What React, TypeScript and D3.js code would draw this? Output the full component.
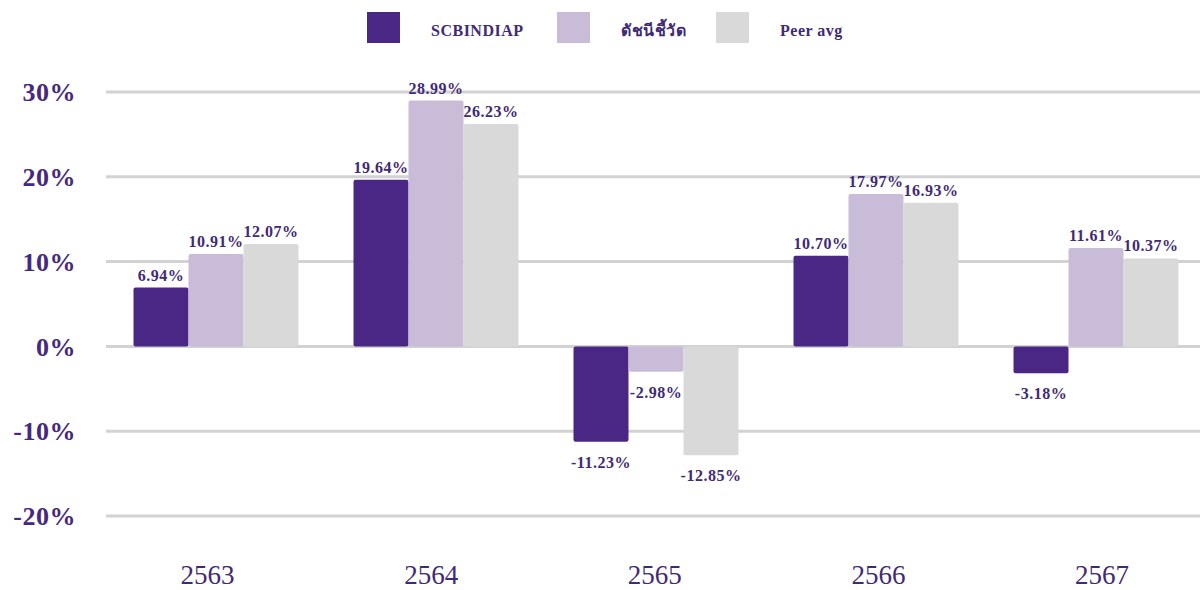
import React from "react";
import * as d3 from "d3";

const categories = ["2563", "2564", "2565", "2566", "2567"];
const seriesNames = ["SCBINDIAP", "ดัชนีชี้วัด", "Peer avg"];
const scbValues = [6.94, 19.64, -11.23, 10.7, -3.18];
const benchmarkValues = [10.91, 28.99, -2.98, 17.97, 11.61];
const peerValues = [12.07, 26.23, -12.85, 16.93, 10.37];
const yTicks = [-20, -10, 0, 10, 20, 30];

const colors = ["#4a2784", "#c9bcd9", "#d9d9d9"];
const textColor = "#3f2a76";
const serif = "'Liberation Serif', 'Times New Roman', 'DejaVu Serif', serif";

const W = 1200;
const H = 590;

export default function App() {
  const series = [scbValues, benchmarkValues, peerValues];
  const x = d3.scaleBand<string>().domain(categories).range([106, 1206]).padding(0);
  const xi = d3
    .scaleBand<number>()
    .domain([0, 1, 2])
    .range([0, x.bandwidth()])
    .paddingInner(0)
    .paddingOuter(0.5);
  const xLabel = d3.scalePoint<string>().domain(categories).range([207.5, 1102]);
  const y = d3.scaleLinear().domain([-20, 30]).range([516, 92]);
  const legendX = [367, 557, 716];

  return (
    <svg width={W} height={H} style={{ position: "absolute", left: 0, top: 0, background: "#fff" }}>
      <rect x={0} y={0} width={W} height={H} fill="#fff" />
      {/* legend */}
      {seriesNames.map((name, i) => (
        <g key={name}>
          <rect x={legendX[i]} y={12} width={33} height={31} fill={colors[i]} />
          <text
            x={legendX[i] + 64}
            y={36}
            fontFamily={serif}
            fontWeight="bold"
            fontSize={16}
            letterSpacing={0.5}
            fill={textColor}
          >
            {name}
          </text>
        </g>
      ))}
      {/* gridlines */}
      {yTicks.map((t) => (
        <line key={t} x1={106} x2={1200} y1={y(t)} y2={y(t)} stroke="#d2d2d2" strokeWidth={3} />
      ))}
      {/* y labels */}
      {yTicks.map((t) => (
        <text
          key={"yl" + t}
          x={76}
          y={y(t)}
          dy="0.35em"
          textAnchor="end"
          fontFamily={serif}
          fontWeight="bold"
          fontSize={26}
          letterSpacing={0.5}
          fill="#46287f"
        >
          {t + "%"}
        </text>
      ))}
      {/* bars */}
      {categories.map((c, ci) => (
        <g key={c} transform={`translate(${x(c)},0)`}>
          {series.map((vals, si) => {
            const v = vals[ci];
            const top = y(Math.max(0, v));
            const bottom = y(Math.min(0, v));
            return (
              <rect
                key={si}
                x={xi(si)}
                y={top}
                width={xi.bandwidth()}
                height={bottom - top}
                rx={2}
                fill={colors[si]}
              />
            );
          })}
          {series.map((vals, si) => {
            const v = vals[ci];
            const ly = v >= 0 ? y(v) - 7 : y(v) + 26;
            return (
              <text
                key={"l" + si}
                x={(xi(si) as number) + xi.bandwidth() / 2}
                y={ly}
                textAnchor="middle"
                fontFamily={serif}
                fontWeight="bold"
                fontSize={16}
                letterSpacing={0.5}
                fill={textColor}
              >
                {v.toFixed(2) + "%"}
              </text>
            );
          })}
        </g>
      ))}
      {/* x labels */}
      {categories.map((c) => (
        <text
          key={"xl" + c}
          x={xLabel(c)}
          y={584}
          textAnchor="middle"
          fontFamily={serif}
          fontSize={27}
          fill="#3f2a76"
        >
          {c}
        </text>
      ))}
    </svg>
  );
}
